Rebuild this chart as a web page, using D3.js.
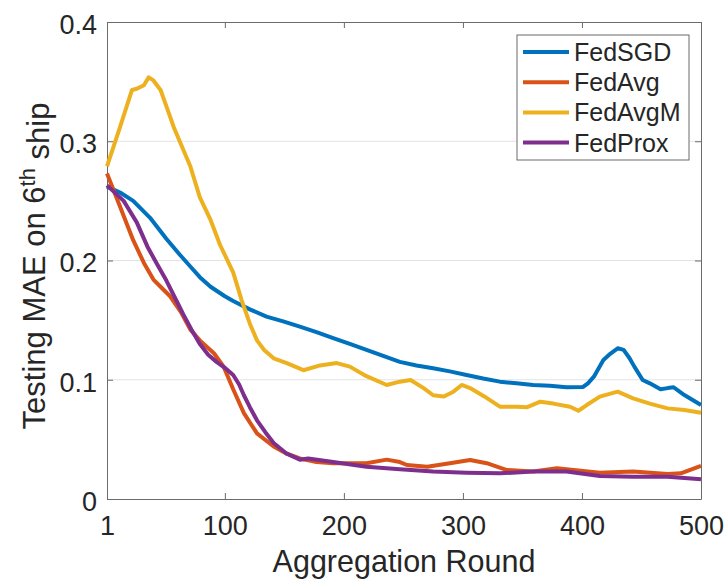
<!DOCTYPE html>
<html>
<head>
<meta charset="utf-8">
<script src="https://cdn.jsdelivr.net/npm/d3@7"></script>
<style>
  body { margin: 0; background: #fff; }
  svg text { font-family: "Liberation Sans", Arial, Helvetica, sans-serif; fill: #262626; }
</style>
</head>
<body>
<div id="chart"></div>
<script>
var width = 726, height = 581;
var margin = { top: 22, right: 25, bottom: 82, left: 107 };

// rounds / values
var sgdX = [1, 12, 23, 37, 51, 62, 71, 79, 88, 100, 107, 121, 135, 149, 163, 177, 191, 205, 219, 233, 247, 261, 275, 289, 303, 317, 331, 345, 359, 373, 387, 401, 405, 410, 418, 424, 430, 435, 440, 444, 451, 457, 466, 472, 477, 482, 486, 493, 500];
var sgdY = [0.262, 0.257, 0.250, 0.236, 0.218, 0.205, 0.195, 0.186, 0.178, 0.170, 0.166, 0.159, 0.153, 0.149, 0.1445, 0.140, 0.135, 0.130, 0.125, 0.120, 0.115, 0.112, 0.1096, 0.107, 0.104, 0.101, 0.0984, 0.097, 0.0956, 0.095, 0.0937, 0.094, 0.097, 0.1026, 0.1166, 0.122, 0.1264, 0.125, 0.118, 0.111, 0.0998, 0.097, 0.092, 0.093, 0.0937, 0.090, 0.0872, 0.083, 0.0788];

var avgX = [1, 12, 23, 32, 40, 46, 54, 63, 71, 79, 91, 99, 107, 116, 127, 141, 152, 163, 177, 191, 205, 219, 236, 247, 253, 270, 289, 306, 320, 337, 359, 379, 393, 415, 443, 472, 483, 500];
var avgY = [0.273, 0.245, 0.217, 0.198, 0.184, 0.178, 0.170, 0.157, 0.142, 0.133, 0.122, 0.111, 0.092, 0.072, 0.055, 0.044, 0.038, 0.034, 0.031, 0.030, 0.030, 0.030, 0.033, 0.031, 0.0285, 0.027, 0.030, 0.0327, 0.030, 0.0243, 0.023, 0.0257, 0.0243, 0.022, 0.023, 0.021, 0.0215, 0.0277];

var avgmX = [1, 12, 22, 26, 32, 36, 40, 46, 51, 57, 65, 71, 79, 88, 96, 107, 114, 121, 127, 133, 141, 152, 166, 180, 194, 205, 219, 236, 247, 256, 267, 275, 284, 292, 299, 306, 318, 331, 345, 354, 365, 376, 390, 397, 404, 415, 430, 443, 457, 472, 486, 500];
var avgmY = [0.279, 0.312, 0.343, 0.344, 0.347, 0.3536, 0.351, 0.343, 0.329, 0.312, 0.293, 0.279, 0.253, 0.234, 0.213, 0.190, 0.167, 0.147, 0.133, 0.125, 0.118, 0.114, 0.108, 0.112, 0.114, 0.111, 0.103, 0.0956, 0.0984, 0.0998, 0.093, 0.087, 0.086, 0.090, 0.0956, 0.093, 0.086, 0.0774, 0.0774, 0.077, 0.0816, 0.080, 0.0774, 0.074, 0.0788, 0.0858, 0.090, 0.0844, 0.080, 0.076, 0.0746, 0.0724];

var proxX = [1, 15, 18, 26, 35, 43, 51, 60, 65, 72, 79, 86, 93, 100, 107, 112, 116, 121, 127, 134, 141, 152, 163, 170, 191, 219, 247, 275, 303, 331, 359, 387, 415, 443, 472, 500];
var proxY = [0.263, 0.250, 0.245, 0.232, 0.2116, 0.197, 0.183, 0.165, 0.155, 0.142, 0.130, 0.121, 0.115, 0.110, 0.104, 0.096, 0.087, 0.077, 0.066, 0.056, 0.047, 0.038, 0.033, 0.034, 0.031, 0.027, 0.025, 0.023, 0.022, 0.0215, 0.023, 0.023, 0.0193, 0.0187, 0.0187, 0.0165];

var names = ["FedSGD", "FedAvg", "FedAvgM", "FedProx"];
var colors = ["#0072BD", "#D95319", "#EDB120", "#7E2F8E"];
var xTicks = [1, 100, 200, 300, 400, 500];
var yTicks = [0, 0.1, 0.2, 0.3, 0.4];

var series = [
  { name: names[0], color: colors[0], xs: sgdX, ys: sgdY },
  { name: names[1], color: colors[1], xs: avgX, ys: avgY },
  { name: names[2], color: colors[2], xs: avgmX, ys: avgmY },
  { name: names[3], color: colors[3], xs: proxX, ys: proxY }
];

var w = width - margin.left - margin.right,
    h = height - margin.top - margin.bottom;

var svg = d3.select("#chart").append("svg")
    .attr("width", width)
    .attr("height", height);

var g = svg.append("g")
    .attr("transform", "translate(" + margin.left + "," + margin.top + ")");

var x = d3.scaleLinear().domain([1, 500]).range([0, w]);
var y = d3.scaleLinear().domain([0, 0.4]).range([h, 0]);

// grid
g.selectAll(".grid")
  .data(yTicks.slice(1, 4))
  .enter().append("line")
  .attr("x1", 0).attr("x2", w)
  .attr("y1", function(d) { return y(d); })
  .attr("y2", function(d) { return y(d); })
  .attr("stroke", "#e3e3e3")
  .attr("stroke-width", 1);

// axes with inward ticks
var axB = g.append("g").attr("transform", "translate(0," + h + ")")
  .call(d3.axisBottom(x).tickValues(xTicks).tickFormat(d3.format("d")).tickSizeInner(-6).tickSizeOuter(0).tickPadding(17));
var axT = g.append("g")
  .call(d3.axisTop(x).tickValues(xTicks).tickFormat("").tickSizeInner(-6).tickSizeOuter(0));
var axL = g.append("g")
  .call(d3.axisLeft(y).tickValues(yTicks).tickFormat(function(d) { return d === 0 ? "0" : d3.format(".1f")(d); }).tickSizeInner(-6).tickSizeOuter(0).tickPadding(10));
var axR = g.append("g").attr("transform", "translate(" + w + ",0)")
  .call(d3.axisRight(y).tickValues(yTicks).tickFormat("").tickSizeInner(-6).tickSizeOuter(0));

[axB, axT, axL, axR].forEach(function(a) {
  a.selectAll("path.domain").attr("stroke", "#6b6b6b");
  a.selectAll(".tick line").attr("stroke", "#6b6b6b");
  a.selectAll("text").style("font-size", "27px").attr("fill", "#262626");
});
axL.selectAll("text").attr("dy", "0.42em");

// lines
var line = d3.line()
  .x(function(d) { return x(d[0]); })
  .y(function(d) { return y(d[1]); });

series.forEach(function(s) {
  var pts = s.xs.map(function(v, i) { return [v, s.ys[i]]; });
  g.append("path")
    .datum(pts)
    .attr("fill", "none")
    .attr("stroke", s.color)
    .attr("stroke-width", 4)
    .attr("stroke-linejoin", "round")
    .attr("d", line);
});

// axis labels
svg.append("text")
  .attr("x", margin.left + w / 2)
  .attr("y", 572)
  .attr("text-anchor", "middle")
  .style("font-size", "30.5px")
  .text("Aggregation Round");

var yl = svg.append("text")
  .attr("transform", "translate(45,266) rotate(-90)")
  .attr("text-anchor", "middle")
  .style("font-size", "31px");
yl.append("tspan").text("Testing MAE on 6");
yl.append("tspan").attr("dy", "-0.45em").style("font-size", "22px").text("th");
yl.append("tspan").attr("dy", "0.45em").text(" ship");

// legend
var lg = svg.append("g").attr("transform", "translate(517,35)");
lg.append("rect")
  .attr("width", 172).attr("height", 125)
  .attr("fill", "#fff")
  .attr("stroke", "#6b6b6b")
  .attr("stroke-width", 1);

var rows = lg.selectAll(".row")
  .data(series)
  .enter().append("g")
  .attr("transform", function(d, i) { return "translate(0," + (17 + i * 30.2) + ")"; });
rows.append("line")
  .attr("x1", 6).attr("x2", 52)
  .attr("stroke", function(d) { return d.color; })
  .attr("stroke-width", 4);
rows.append("text")
  .attr("x", 57)
  .attr("dy", "0.36em")
  .style("font-size", "25px")
  .attr("fill", "#000")
  .text(function(d) { return d.name; });
</script>
</body>
</html>
